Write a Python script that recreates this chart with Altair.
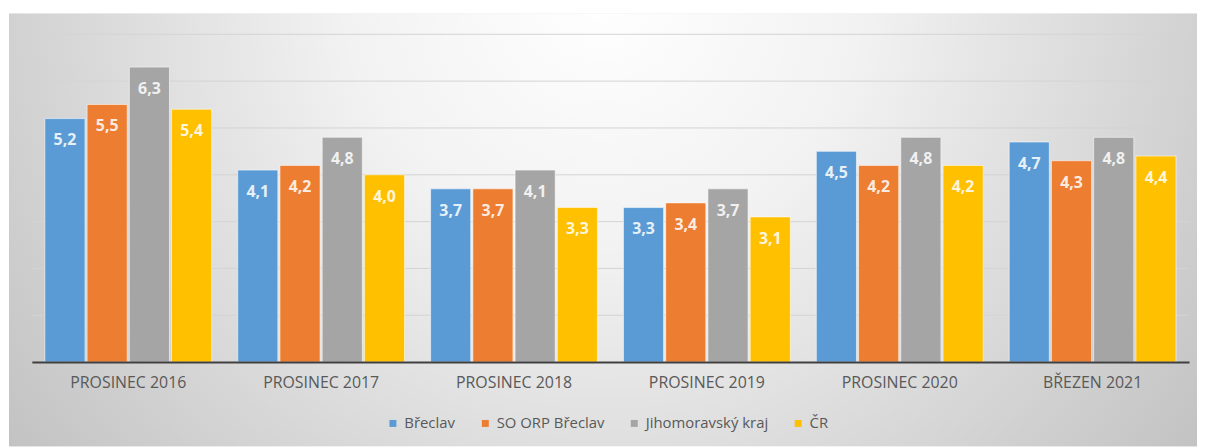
import altair as alt
import pandas as pd

categories = ["PROSINEC 2016", "PROSINEC 2017", "PROSINEC 2018",
              "PROSINEC 2019", "PROSINEC 2020", "BŘEZEN 2021"]
series = ["Břeclav", "SO ORP Břeclav", "Jihomoravský kraj", "ČR"]
breclav = [5.2, 4.1, 3.7, 3.3, 4.5, 4.7]
so_orp = [5.5, 4.2, 3.7, 3.4, 4.2, 4.3]
jmk = [6.3, 4.8, 4.1, 3.7, 4.8, 4.8]
cr = [5.4, 4.0, 3.3, 3.1, 4.2, 4.4]
grid_values = [1, 2, 3, 4, 5, 6, 7]
colors = ["#5B9BD5", "#ED7D31", "#A5A5A5", "#FFC000"]

rows = []
for s, vals in zip(series, [breclav, so_orp, jmk, cr]):
    for c, v in zip(categories, vals):
        rows.append({"cat": c, "series": s, "value": v})
df = pd.DataFrame(rows)

W, H = 1165, 330
FONT = "Open Sans"

bg = alt.Chart(pd.DataFrame({"a": [0]})).mark_rect(
    color={
        "gradient": "radial",
        "x1": 0.5, "y1": 0.3, "r1": 0.0,
        "x2": 0.5, "y2": 0.3, "r2": 0.72,
        "stops": [
            {"offset": 0.0, "color": "#ffffff"},
            {"offset": 0.3, "color": "#f2f2f2"},
            {"offset": 1.0, "color": "#b8b8b8"},
        ],
    }
).encode(
    x=alt.value(-23), x2=alt.value(W + 8),
    y=alt.value(-21), y2=alt.value(H + 85),
)

yscale = alt.Scale(domain=[0, 7], nice=False)

grid = alt.Chart(pd.DataFrame({"g": grid_values})).mark_rule(
    color="#d4d4d4", strokeWidth=1
).encode(y=alt.Y("g:Q", scale=yscale, axis=None))

xenc = alt.X("cat:N", sort=categories, title=None,
             scale=alt.Scale(paddingInner=0.135, paddingOuter=0.0675),
             axis=alt.Axis(labelAngle=0, labelFontSize=16, labelColor="#595959",
                           labelFont=FONT, ticks=False, tickSize=0, labelPadding=13,
                           domainColor="#404040", domainWidth=2, grid=False,
                           zindex=1))
yenc = alt.Y("value:Q", title=None, scale=yscale, axis=None)
xoff = alt.XOffset("series:N", sort=series,
                   scale=alt.Scale(paddingInner=0.05, paddingOuter=0.0))

bars = alt.Chart(df).mark_bar(stroke="#ffffff", strokeWidth=0.8, strokeOpacity=0.7).encode(
    x=xenc, y=yenc, xOffset=xoff,
    color=alt.Color("series:N", sort=series,
                    scale=alt.Scale(domain=series, range=colors),
                    legend=alt.Legend(title=None, orient="none", direction="horizontal",
                                      legendX=356, legendY=384, padding=0,
                                      symbolType="square", symbolSize=49,
                                      symbolStrokeWidth=0, labelFontSize=15,
                                      labelFont=FONT, labelColor="#595959",
                                      labelOffset=4, columnPadding=22)),
)

labels = alt.Chart(df).transform_calculate(
    label="replace(format(datum.value, '.1f'), '.', ',')"
).mark_text(baseline="middle", dy=22, color="#ffffff", fontWeight="bold",
            fontSize=16, font=FONT, opacity=0.85).encode(
    x=alt.X("cat:N", sort=categories), y=alt.Y("value:Q"), xOffset=xoff,
    text="label:N",
)

chart = alt.layer(bg, grid, bars, labels).properties(
    width=W, height=H,
    padding={"left": 1, "top": 4, "right": 0, "bottom": 0},
).configure_view(stroke=None).configure(background="#ffffff")

chart.save("out.html", embed_options={"renderer": "svg", "actions": False})
